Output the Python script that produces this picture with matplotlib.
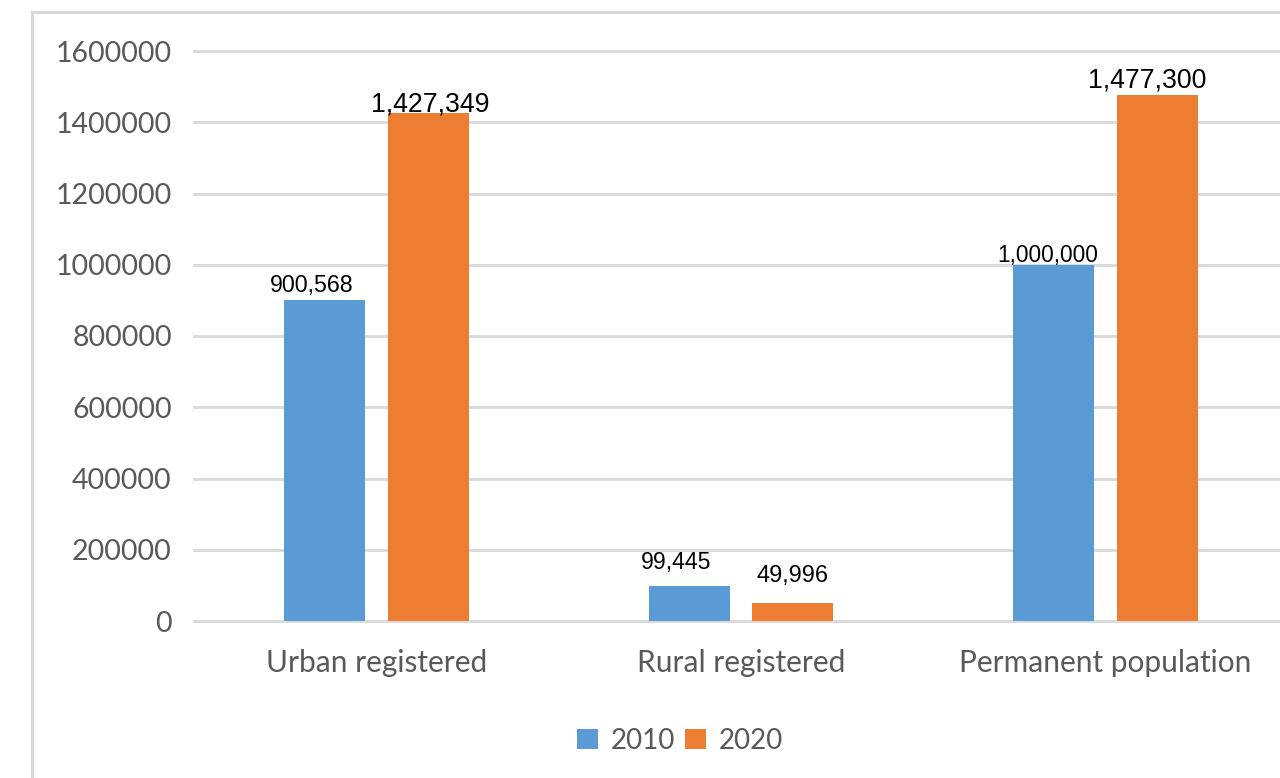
import matplotlib
matplotlib.use("Agg")
import matplotlib.pyplot as plt
import numpy as np
from matplotlib.patches import Rectangle

categories = ["Urban registered", "Rural registered", "Permanent population"]
years = ["2010", "2020"]
values_2010 = [900568, 99445, 1000000]
values_2020 = [1427349, 49996, 1477300]
yticks = [0, 200000, 400000, 600000, 800000, 1000000, 1200000, 1400000, 1600000]

blue = "#5B9BD5"
orange = "#ED7D31"
grid_gray = "#D9D9D9"
text_gray = "#595959"

# data label placement per bar: (font size, dx px, dy px above bar top)
label_style_2010 = [(16.7, -13, 8), (16.7, -13, 17), (16.4, -6, 3)]
label_style_2020 = [(19.2, 2, 1), (16.9, 0, 21), (19.2, -10, 7)]

fig = plt.figure(figsize=(12.8, 7.78), dpi=100)

# outer chart frame, only left and top edges show
fig.patches.append(Rectangle((32 / 1280, -0.1), 1.2, (778 - 12) / 778 + 0.1,
                             transform=fig.transFigure, fill=False,
                             edgecolor=grid_gray, linewidth=2.2))

ax = fig.add_axes([194 / 1280, (778 - 621) / 778, 1094 / 1280, 570 / 778])

x = np.arange(len(categories))
w = 0.222
off = 0.142
b1 = ax.bar(x - off, values_2010, w, color=blue, label=years[0], zorder=3)
b2 = ax.bar(x + off, values_2020, w, color=orange, label=years[1], zorder=3)

for bars, styles in ((b1, label_style_2010), (b2, label_style_2020)):
    for rect, (fs, dx, dy) in zip(bars, styles):
        h = rect.get_height()
        ax.annotate(f"{h:,.0f}", (rect.get_x() + rect.get_width() / 2, h),
                    xytext=(dx * 0.72, dy * 0.72), textcoords="offset points",
                    ha="center", va="baseline", fontsize=fs,
                    family="Liberation Sans", color="black", zorder=4)

ax.set_xlim(-0.5, 2.5)
ax.set_ylim(0, 1600000)
ax.set_yticks(yticks)
ax.set_yticklabels([str(v) for v in yticks])
ax.set_xticks(x)
ax.set_xticklabels(categories)
ax.yaxis.grid(True, color=grid_gray, linewidth=2)
ax.set_axisbelow(True)
# keep the 0 and top gridlines full width instead of half-clipped
for gl in ax.get_ygridlines():
    gl.set_clip_on(False)
for s in ax.spines.values():
    s.set_visible(False)
ax.tick_params(axis="y", length=0, labelcolor=text_gray, labelsize=20.5, pad=16)
ax.tick_params(axis="x", length=0, labelcolor=text_gray, labelsize=21.5, pad=20)
for lab in ax.get_xticklabels() + ax.get_yticklabels():
    lab.set_family("Lato")

leg = fig.legend(loc="center", bbox_to_anchor=(680 / 1280, (778 - 741) / 778),
                 ncol=2, frameon=False, handlelength=0.75, handleheight=0.75,
                 handletextpad=0.45, columnspacing=0.35,
                 prop={"family": "Lato", "size": 20})
for t in leg.get_texts():
    t.set_color(text_gray)

fig.savefig("out.png", dpi=100)
